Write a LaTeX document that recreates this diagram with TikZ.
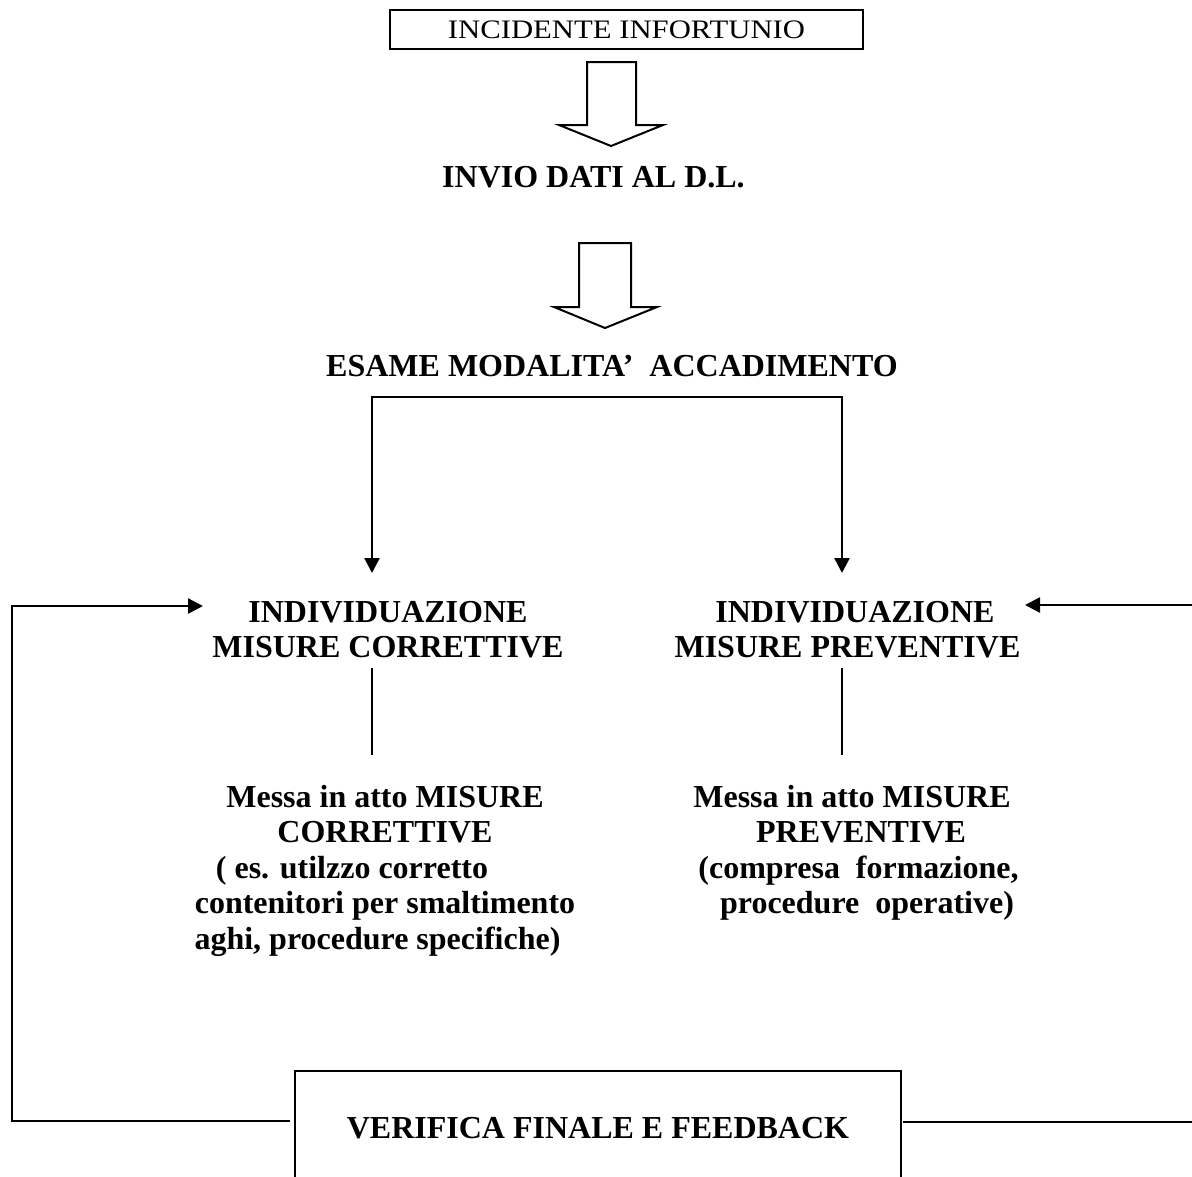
\documentclass[tikz,border=0pt]{standalone}
\usepackage{fontspec}
\setmainfont{Liberation Serif}
\newfontfamily\widerserif[FakeStretch=1.15]{Liberation Serif}
\usetikzlibrary{arrows.meta}
\begin{document}
\begin{tikzpicture}[x=1pt,y=-1pt,
  reg/.style={font=\widerserif\fontsize{26.7}{30.7}\selectfont, inner sep=0pt},
  bld/.style={font=\fontsize{32}{35.5}\selectfont\bfseries, inner sep=0pt, align=center},
  conn/.style={line width=2.4pt},
  thinline/.style={line width=1.6pt},
  tipend/.style={-{Triangle[length=15pt,width=15pt]}},
  block/.style={line width=2pt, line join=miter, fill=white}]
\useasboundingbox (0,0) rectangle (1192,1176);
\clip (0,0) rectangle (1192,1176);

% top box
\node[reg, draw, line width=1.5pt, minimum width=473pt, minimum height=39pt] (inc) at (626.5,29.5) {INCIDENTE INFORTUNIO};

% block arrow 1
\draw[block] (587,62) -- (636,62) -- (636,125) -- (663,125) -- (611,146) -- (559,125) -- (587,125) -- cycle;

\node[bld, anchor=base] (invio) at (593.5,187) {INVIO DATI AL D.L.};

% block arrow 2
\draw[block] (579,243) -- (631,243) -- (631,307) -- (657,307) -- (605,328) -- (554,307) -- (579,307) -- cycle;

\node[bld, anchor=base] (esame) at (612,376) {ESAME MODALITA’\ \ ACCADIMENTO};

% split connector
\coordinate (split) at (607,397);
\coordinate (corIn) at (372,573);
\coordinate (prevIn) at (842,573);
\draw[conn, tipend] (split) -| (corIn);
\draw[conn, tipend] (split) -| (prevIn);

% headings
\node[bld, anchor=north] (hcor) at (388,601) {INDIVIDUAZIONE\\MISURE CORRETTIVE};
\node[bld, anchor=north] (hprev) at (847.5,601) {\hspace*{15pt}INDIVIDUAZIONE\\MISURE PREVENTIVE};

% short vertical lines
\coordinate (corA) at (372,668);
\coordinate (corB) at (372,755);
\coordinate (prevA) at (842,668);
\coordinate (prevB) at (842,755);
\draw[thinline] (corA) -- (corB);
\draw[thinline] (prevA) -- (prevB);

% lower texts
\node[bld, anchor=north] (mcor) at (385,785) {Messa in atto MISURE\\CORRETTIVE\\( es. utilzzo corretto\hspace*{66pt}\mbox{}\\contenitori per smaltimento\\aghi, procedure specifiche)\hspace*{15pt}\mbox{}};
\node[bld, anchor=north] (mprev) at (852,785) {Messa in atto MISURE\\\hspace*{18pt}PREVENTIVE\\\hspace*{13pt}(compresa\ \ formazione,\\\hspace*{30pt}procedure\ \ operative)};

% feedback box
\draw[line width=1.5pt] (295,1200) -- (295,1071) -- (901,1071) -- (901,1200);
\node[bld, anchor=base] (fb) at (598,1138) {VERIFICA FINALE E FEEDBACK};

% feedback loops
\coordinate (fbL) at (290,1121);
\coordinate (fbR) at (903,1122);
\coordinate (corFb) at (203,606);
\coordinate (prevFb) at (1025,605);
\draw[conn, tipend] (fbL) -- (12,1121) |- (corFb);
\draw[conn, tipend] (fbR) -- (1200,1122) |- (prevFb);
\end{tikzpicture}
\end{document}
